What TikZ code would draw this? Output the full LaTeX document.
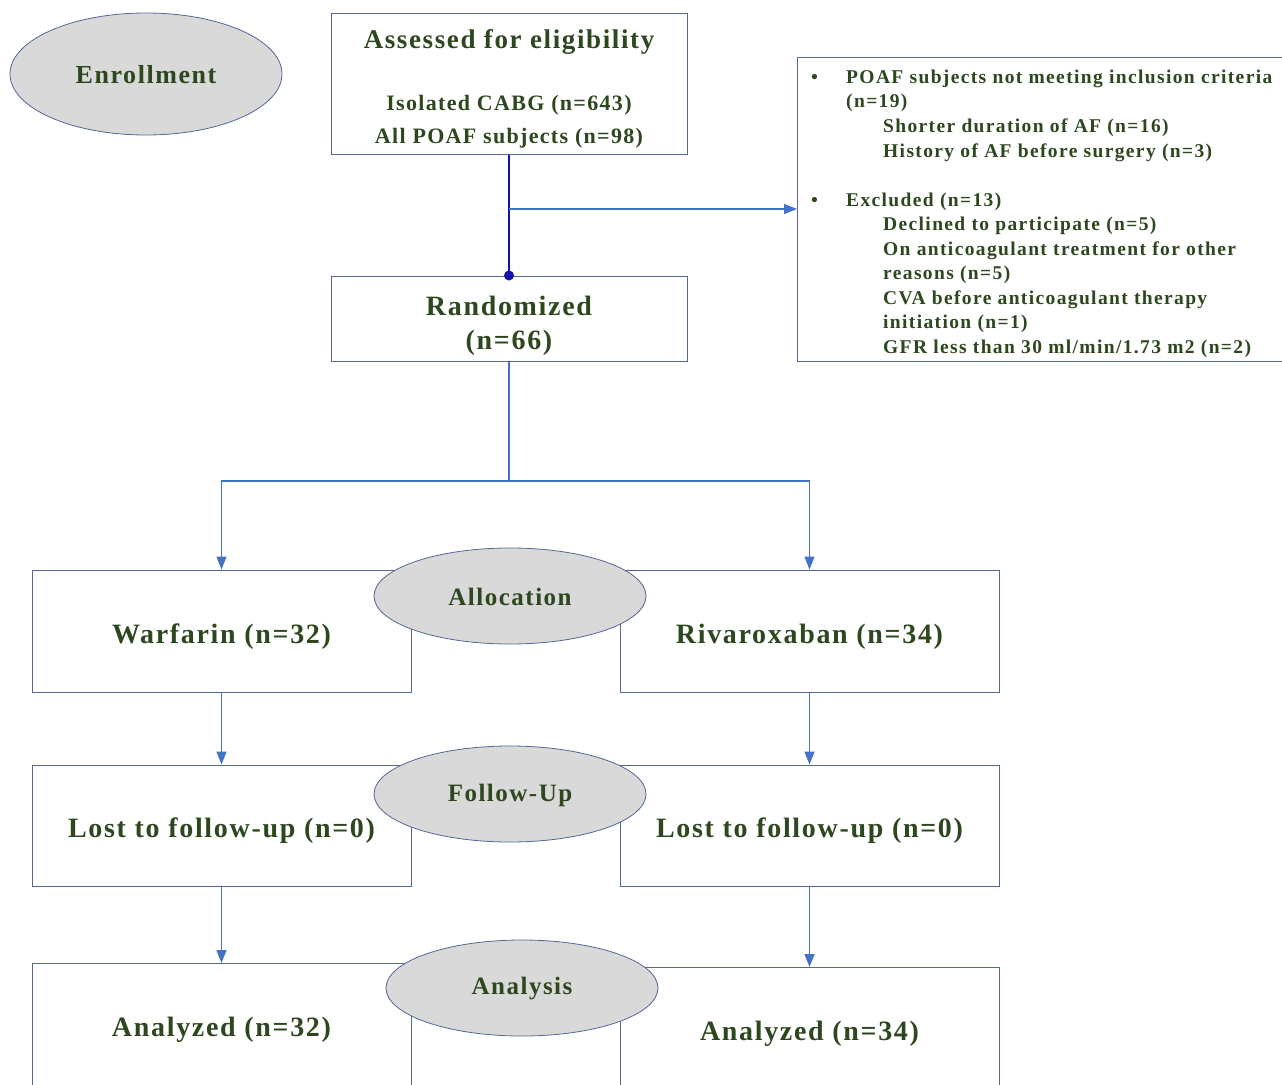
\documentclass[tikz,border=0pt]{standalone}
\usepackage{fontspec}
\setmainfont{Liberation Serif}
\newfontfamily\spc[LetterSpace=6]{Liberation Serif}
\newfontfamily\spcb[LetterSpace=7]{Liberation Serif}
\usetikzlibrary{arrows.meta,shapes.geometric}
\definecolor{txt}{RGB}{45,72,30}
\definecolor{boxc}{RGB}{84,104,150}
\definecolor{arr}{RGB}{68,114,196}
\definecolor{navy}{RGB}{20,20,170}
\definecolor{ellf}{RGB}{217,217,217}
\tikzset{
  box/.style={draw=boxc, line width=1pt, fill=white, inner sep=0pt},
  oval/.style={ellipse, draw=boxc, line width=0.8pt, fill=ellf, inner sep=0pt},
  lbl/.style={text=txt, inner sep=0pt},
  conn/.style={draw=arr, line width=1.2pt},
  arrowc/.style={conn, -{Triangle[length=13pt,width=10pt]}},
}
\newcommand{\fs}[1]{\spc\bfseries\fontsize{#1}{#1}\selectfont}
\begin{document}
\begin{tikzpicture}[x=1pt,y=-1pt]
\useasboundingbox (0,0) rectangle (1282,1084);
\clip (0,0) rectangle (1282,1084);
\fill[white] (0,0) rectangle (1282,1084);

% boxes
\node[box, minimum width=356pt, minimum height=141pt] (assess) at (509,83.5) {};
\node[box, minimum width=356pt, minimum height=85pt] (rand) at (509,318.5) {};
\node[box, minimum width=500pt, minimum height=304pt, anchor=north west] (excl) at (797,57) {};
\node[box, minimum width=379pt, minimum height=122pt] (warf) at (221.5,631) {};
\node[box, minimum width=379pt, minimum height=122pt] (riva) at (809.5,631) {};
\node[box, minimum width=379pt, minimum height=121pt] (lostl) at (221.5,825.5) {};
\node[box, minimum width=379pt, minimum height=121pt] (lostr) at (809.5,825.5) {};
\node[box, minimum width=379pt, minimum height=140pt, anchor=north] (anl) at (221.5,963) {};
\node[box, minimum width=379pt, minimum height=140pt, anchor=north] (anr) at (809.5,967) {};

% box texts
\node[lbl, font=\fs{27}] (t1) at (509,42) {Assessed for eligibility};
\node[lbl, font=\fs{22}] (t2) at (509,105) {Isolated CABG (n=643)};
\node[lbl, font=\fs{22}] (t3) at (509,138) {All POAF subjects (n=98)};
\node[lbl, font=\fs{28}] (t4) at (509,306) {Randomized};
\node[lbl, font=\fs{28}] (t5) at (509,343) {(n=66)};
\node[lbl, font=\fs{28}] (t6) at (221.5,637) {Warfarin (n=32)};
\node[lbl, font=\fs{28}] (t7) at (809.5,637) {Rivaroxaban (n=34)};
\node[lbl, font=\fs{28}] (t8) at (221.5,831) {Lost to follow-up (n=0)};
\node[lbl, font=\fs{28}] (t9) at (809.5,831) {Lost to follow-up (n=0)};
\node[lbl, font=\fs{28}] (t10) at (221.5,1030) {Analyzed (n=32)};
\node[lbl, font=\fs{28}] (t11) at (809.5,1034) {Analyzed (n=34)};

% exclusion list
\begin{scope}[every node/.style={lbl, anchor=base west, font=\spcb\bfseries\fontsize{19.5}{22}\selectfont}]
\node (b1) at (811,83) {•};
\node (e1) at (846,83) {POAF subjects not meeting inclusion criteria};
\node (e2) at (846,107) {(n=19)};
\node (e3) at (883,132) {Shorter duration of AF (n=16)};
\node (e4) at (883,157) {History of AF before surgery (n=3)};
\node (b2) at (811,206) {•};
\node (e5) at (846,206) {Excluded (n=13)};
\node (e6) at (883,230) {Declined to participate (n=5)};
\node (e7) at (883,255) {On anticoagulant treatment for other};
\node (e8) at (883,279) {reasons (n=5)};
\node (e9) at (883,304) {CVA before anticoagulant therapy};
\node (e10) at (883,328) {initiation (n=1)};
\node (e11) at (883,353) {GFR less than 30 ml/min/1.73 m2 (n=2)};
\end{scope}

% ovals
\node[oval, minimum width=272pt, minimum height=122pt] (enr) at (146,74) {};
\node[lbl, font=\fs{26}] (enrt) at (146,75) {Enrollment};

% connectors
\coordinate (j1) at (509,209);
\draw[navy, line width=1.5pt] (assess.south) -- (rand.north);
\fill[navy] (rand.north) circle (5pt);
\draw[arrowc] (j1) -- (excl.west |- j1);
\coordinate (j2) at (509,481);
\draw[conn] (rand.south) -- (j2);
\draw[arrowc] (j2) -| (warf.north);
\draw[arrowc] (j2) -| (riva.north);
\draw[arrowc] (warf.south) -- (lostl.north);
\draw[arrowc] (riva.south) -- (lostr.north);
\draw[arrowc] (lostl.south) -- (anl.north);
\draw[arrowc] (lostr.south) -- (anr.north);

\node[oval, minimum width=272pt, minimum height=96pt] (alloc) at (510,596) {};
\node[lbl, font=\fs{25}] at (510,597) {Allocation};
\node[oval, minimum width=272pt, minimum height=96pt] (fup) at (510,794) {};
\node[lbl, font=\fs{25}] at (510,795) {Follow-Up};
\node[oval, minimum width=272pt, minimum height=96pt] (anal) at (522,988) {};
\node[lbl, font=\fs{25}] at (522,989) {Analysis};
\end{tikzpicture}
\end{document}
